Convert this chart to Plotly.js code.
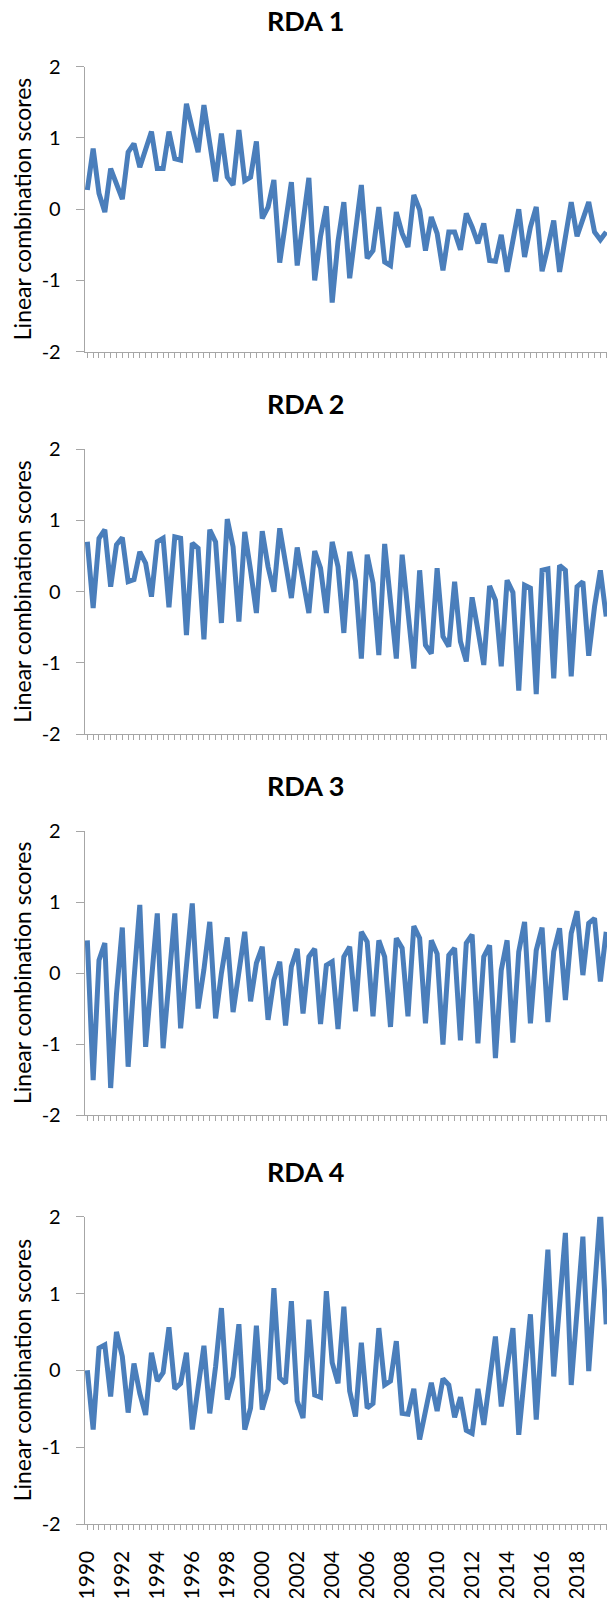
<!DOCTYPE html>
<html><head><meta charset="utf-8">
<script src="https://cdn.plot.ly/plotly-3.0.1.min.js"></script>
<style>html,body{margin:0;padding:0;background:#fff;overflow:hidden}</style>
</head><body><div id="chart" style="width:607px;height:1598px"></div>
<script>
// ---- data (3 samples per year, 1990-2019) ----
const samplesPerYear = 3;
const yearLabels = ["1990","1992","1994","1996","1998","2000","2002","2004","2006","2008","2010","2012","2014","2016","2018"];
const panelTitles = ["RDA 1","RDA 2","RDA 3","RDA 4"];
const yAxisTitle = "Linear combination scores";
const yTickVals = [-2,-1,0,1,2];

const rda1 = [0.27,0.85,0.22,-0.04,0.57,0.36,0.14,0.80,0.92,0.59,
 0.86,1.09,0.57,0.57,1.09,0.71,0.69,1.48,1.13,0.80,
 1.46,0.87,0.39,1.06,0.45,0.34,1.11,0.40,0.45,0.95,
 -0.13,0.03,0.41,-0.75,-0.18,0.38,-0.79,-0.20,0.44,-1.00,
 -0.38,0.04,-1.31,-0.45,0.10,-0.97,-0.32,0.34,-0.69,-0.58,
 0.03,-0.74,-0.79,-0.04,-0.34,-0.53,0.20,-0.01,-0.58,-0.11,
 -0.34,-0.86,-0.32,-0.32,-0.57,-0.06,-0.25,-0.48,-0.20,-0.72,
 -0.73,-0.36,-0.88,-0.44,0.00,-0.67,-0.25,0.03,-0.87,-0.53,
 -0.16,-0.88,-0.39,0.10,-0.38,-0.13,0.10,-0.32,-0.43,-0.32];

const rda2 = [0.70,-0.23,0.75,0.87,0.07,0.66,0.76,0.14,0.17,0.56,
 0.40,-0.07,0.70,0.75,-0.22,0.77,0.75,-0.61,0.68,0.61,
 -0.67,0.87,0.70,-0.44,1.02,0.63,-0.42,0.84,0.30,-0.30,
 0.85,0.35,0.00,0.89,0.40,-0.09,0.62,0.16,-0.30,0.57,
 0.33,-0.30,0.70,0.35,-0.58,0.56,0.15,-0.94,0.52,0.12,
 -0.89,0.67,-0.10,-0.94,0.52,-0.21,-1.08,0.30,-0.75,-0.87,
 0.33,-0.63,-0.77,0.14,-0.70,-0.98,-0.08,-0.54,-1.03,0.08,
 -0.12,-1.05,0.16,-0.01,-1.39,0.09,0.05,-1.44,0.30,0.32,
 -1.22,0.37,0.30,-1.19,0.07,0.14,-0.90,-0.21,0.30,-0.35];

const rda3 = [0.46,-1.51,0.18,0.42,-1.62,-0.30,0.64,-1.32,-0.10,0.96,
 -1.04,0.00,0.84,-1.06,0.00,0.84,-0.78,0.20,0.98,-0.50,
 0.05,0.72,-0.64,0.00,0.50,-0.55,0.05,0.58,-0.40,0.14,
 0.37,-0.66,-0.10,0.16,-0.74,0.09,0.34,-0.57,0.23,0.34,
 -0.72,0.11,0.16,-0.79,0.23,0.37,-0.54,0.58,0.44,-0.61,
 0.46,0.23,-0.76,0.49,0.35,-0.61,0.66,0.49,-0.71,0.46,
 0.27,-1.01,0.25,0.35,-0.95,0.42,0.54,-0.99,0.23,0.39,
 -1.20,0.04,0.46,-0.98,0.30,0.72,-0.71,0.32,0.64,-0.69,
 0.30,0.63,-0.38,0.56,0.87,-0.03,0.70,0.77,-0.12,0.58];

const rda4 = [0.00,-0.77,0.29,0.33,-0.34,0.50,0.18,-0.55,0.09,-0.30,
 -0.58,0.23,-0.14,-0.03,0.56,-0.24,-0.17,0.23,-0.77,-0.17,
 0.32,-0.56,0.05,0.81,-0.38,-0.08,0.60,-0.77,-0.49,0.58,
 -0.51,-0.25,1.07,-0.10,-0.17,0.90,-0.40,-0.62,0.66,-0.32,
 -0.35,1.03,0.10,-0.17,0.83,-0.27,-0.60,0.36,-0.49,-0.43,
 0.55,-0.19,-0.14,0.38,-0.56,-0.57,-0.24,-0.90,-0.51,-0.16,
 -0.53,-0.11,-0.19,-0.61,-0.35,-0.78,-0.82,-0.24,-0.71,-0.12,
 0.44,-0.47,0.05,0.55,-0.84,-0.05,0.73,-0.64,0.45,1.57,
 -0.08,0.85,1.79,-0.19,0.75,1.74,-0.01,1.00,2.10,0.60];

const series = [rda1, rda2, rda3, rda4];

// ---- layout geometry ----
const W = 607, H = 1598, L = 85;
const plotW = W - L;
const panelPx = [[66.7,351.7],[449.3,734],[831,1115],[1216.7,1524]];
const titleCapPx = [24, 406.6, 788.3, 1174];
const lineColor = '#4A7EBB';
const axisGray = '#A6A6A6';
const FONT = 'Lato, "Open Sans", sans-serif';

const n = rda1.length;
const xIdx = Array.from({length:n}, (_, i) => i);
const tickVals = xIdx.slice();
const tickText = xIdx.map(i => (i % (2*samplesPerYear) === 0) ? (yearLabels[i/(2*samplesPerYear)] || '') : '');

const xRange = [-0.4, -0.4 + plotW/5.83];

const traces = series.map((s, k) => ({
  type:'scatter', mode:'lines', x:xIdx, y:s,
  xaxis: k===0 ? 'x' : 'x'+(k+1), yaxis: k===0 ? 'y' : 'y'+(k+1),
  line:{color:lineColor, width:5}, hoverinfo:'skip', showlegend:false
}));

const layout = {
  width:W, height:H, margin:{l:L, r:0, t:0, b:0},
  paper_bgcolor:'#fff', plot_bgcolor:'#fff', showlegend:false,
  font:{family:FONT, color:'#000'},
  annotations:[]
};

panelPx.forEach((p, k) => {
  const sx = k===0 ? '' : String(k+1);
  const d0 = 1 - p[1]/H, d1 = 1 - p[0]/H;
  layout['xaxis'+sx] = {
    domain:[0,1], anchor:'y'+sx, range:xRange, showgrid:false, zeroline:false,
    showline:true, linecolor:axisGray, linewidth:1.3,
    ticks:'outside', ticklen:5, tickwidth:1, tickcolor:axisGray,
    tickmode:'array', tickvals:tickVals, ticktext:tickText,
    showticklabels: k===3, tickangle:-90, ticklabelstandoff:12,
    tickfont:{family:FONT, size:21, color:'#000'}, fixedrange:true
  };
  layout['yaxis'+sx] = {
    domain:[d0,d1], anchor:'x'+sx, range:[-2,2], showgrid:false, zeroline:false,
    showline:true, linecolor:axisGray, linewidth:1.3,
    ticks:'outside', ticklen:8, tickwidth:1, tickcolor:axisGray,
    tickmode:'array', tickvals:yTickVals, ticktext:yTickVals.map(String),
    ticklabelstandoff:11,
    tickfont:{family:FONT, size:20, color:'#000'}, fixedrange:true
  };
  layout.annotations.push({
    xref:'paper', yref:'paper', x:(305-L)/plotW, y:1 - (titleCapPx[k]-3)/H,
    xanchor:'center', yanchor:'middle', showarrow:false,
    text:'<b>'+panelTitles[k]+'</b>', font:{family:FONT, size:27, color:'#000'}
  });
  layout.annotations.push({
    xref:'paper', yref:'paper', x:(22-L)/plotW, y:(d0+d1)/2,
    xanchor:'center', yanchor:'middle', showarrow:false, textangle:-90,
    text:yAxisTitle, font:{family:FONT, size:23, color:'#000'}
  });
});

Plotly.newPlot('chart', traces, layout, {staticPlot:true, displayModeBar:false});
</script></body></html>
